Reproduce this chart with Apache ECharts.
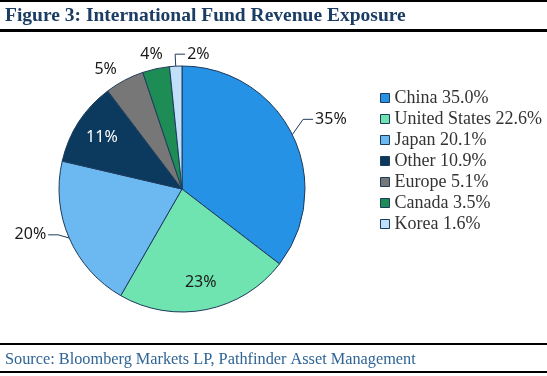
<!DOCTYPE html>
<html>
<head>
<meta charset="utf-8">
<script src="https://cdn.jsdelivr.net/npm/echarts@6/dist/echarts.min.js"></script>
<style>
  html, body { margin: 0; padding: 0; background: #fff; }
  #chart { width: 547px; height: 376px; }
</style>
</head>
<body>
<div id="chart"></div>
<script>
// fund revenue exposure by region (%)
var categories = ['China', 'United States', 'Japan', 'Other', 'Europe', 'Canada', 'Korea'];
var shares = [35.0, 22.6, 20.1, 10.9, 5.1, 3.5, 1.6];
var sliceColors = ['#2592e6', '#70e4b0', '#6cb8f0', '#0b3a5e', '#777777', '#1e8c55', '#bfe0f8'];
var insideLabels = ['United States', 'Other'];

var titleText = 'Figure 3: International Fund Revenue Exposure';
var sourceText = 'Source: Bloomberg Markets LP, Pathfinder Asset Management';

var edge = '#1d3b5c';
var serif = '"Liberation Serif", "DejaVu Serif", serif';
var sans = '"Noto Sans", "Liberation Sans", sans-serif';

var chart = echarts.init(document.getElementById('chart'));

var mainData = categories.map(function(name, i) {
  var item = { name: name, value: shares[i], itemStyle: { color: sliceColors[i] } };
  if (insideLabels.indexOf(name) >= 0) {
    item.label = { show: false };
    item.labelLine = { show: false };
  } else if (name === 'Europe' || name === 'Canada') {
    item.labelLine = { show: false, length: 12, length2: 0 };
  }
  return item;
});

var innerData = categories.map(function(name, i) {
  return {
    name: name,
    value: shares[i],
    label: {
      show: insideLabels.indexOf(name) >= 0,
      color: name === 'Other' ? '#ffffff' : '#1a1a1a'
    }
  };
});

var pctFormat = function(p) { return Math.round(p.value) + '%'; };

// leader lines bend upward a bit more than a straight radial line
function lift(p, dy) {
  return [p[0], [p[1][0], p[1][1] - dy], [p[2][0], p[2][1] - dy]];
}

chart.setOption({
  animation: false,
  legend: {
    orient: 'vertical',
    left: 380,
    top: 89,
    padding: 0,
    itemWidth: 9,
    itemHeight: 9,
    itemGap: 3,
    icon: 'rect',
    data: categories,
    itemStyle: { borderColor: edge, borderWidth: 1 },
    textStyle: { fontFamily: serif, fontSize: 18, color: '#333', lineHeight: 16 },
    formatter: function(name) {
      return name + ' ' + shares[categories.indexOf(name)].toFixed(1) + '%';
    }
  },
  graphic: [
    { type: 'rect', shape: { x: 0, y: 0, width: 547, height: 2 }, style: { fill: '#000' } },
    { type: 'rect', shape: { x: 0, y: 29, width: 547, height: 3 }, style: { fill: '#000' } },
    { type: 'rect', shape: { x: 0, y: 343, width: 547, height: 2 }, style: { fill: '#000' } },
    { type: 'rect', shape: { x: 0, y: 371, width: 547, height: 2 }, style: { fill: '#000' } },
    {
      type: 'text', left: 5, top: 6,
      style: { text: titleText, font: 'bold 19.5px ' + serif, fill: '#1b3d63' }
    },
    {
      type: 'text', left: 5, top: 352,
      style: { text: sourceText, font: '16.3px ' + serif, fill: '#2f6496' }
    }
  ],
  series: [
    {
      type: 'pie',
      center: [182, 189],
      radius: [0, 123],
      startAngle: 90,
      clockwise: true,
      avoidLabelOverlap: false,
      itemStyle: { borderColor: edge, borderWidth: 1 },
      label: {
        show: true,
        position: 'outside',
        formatter: pctFormat,
        fontFamily: sans,
        fontSize: 16,
        color: '#1a1a1a',
        distanceToLabelLine: 2
      },
      labelLine: {
        show: true,
        length: 12,
        length2: 10,
        lineStyle: { color: edge, width: 1 }
      },
      labelLayout: function(params) {
        var p = params.labelLinePoints;
        if (!p) return;
        if (params.dataIndex === 0 || params.dataIndex === 2) {
          var q = lift(p, params.dataIndex === 0 ? 10 : 8);
          var right = params.dataIndex === 0;
          return {
            x: q[2][0] + (right ? 2 : -2),
            y: q[2][1],
            align: right ? 'left' : 'right',
            verticalAlign: 'middle',
            labelLinePoints: q
          };
        }
        if (params.dataIndex === 5) {
          return { x: p[1][0] - 2, y: p[1][1] - 3, align: 'center', verticalAlign: 'middle' };
        }
        if (params.dataIndex === 6) {
          // Korea: flip the leader line to the right side of the pie
          var end = [2 * p[1][0] - p[2][0], p[2][1]];
          return {
            x: end[0] + 2,
            y: end[1],
            align: 'left',
            verticalAlign: 'middle',
            labelLinePoints: [p[0], p[1], end]
          };
        }
      },
      emphasis: { disabled: true },
      data: mainData
    },
    {
      type: 'pie',
      center: [182, 189],
      radius: [62, 123],
      startAngle: 90,
      clockwise: true,
      silent: true,
      z: 3,
      itemStyle: { color: 'transparent', borderWidth: 0 },
      label: {
        position: 'inside',
        formatter: pctFormat,
        fontFamily: sans,
        fontSize: 16
      },
      labelLine: { show: false },
      emphasis: { disabled: true },
      data: innerData
    }
  ]
});
</script>
</body>
</html>
